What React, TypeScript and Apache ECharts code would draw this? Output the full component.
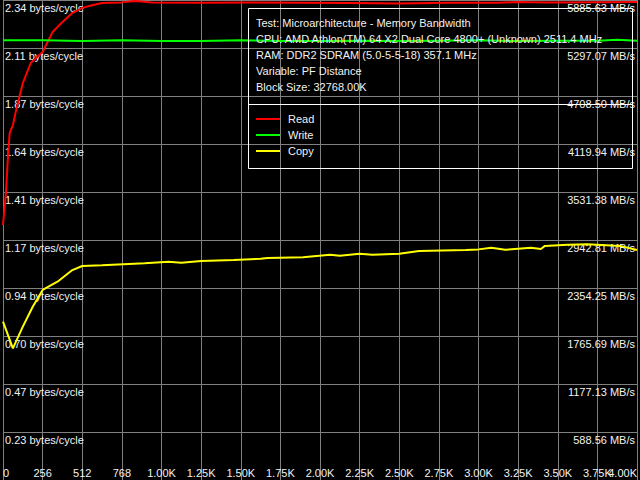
import { useRef, useEffect } from "react"
import * as echarts from "echarts"

// block size (bytes) vs bandwidth (bytes/cycle)
const readSize = [0, 19, 32, 43, 64, 85, 128, 179, 256, 320, 384, 448, 512, 576, 640, 768, 851, 896, 960, 1280, 1600, 1920, 2240, 2560, 2880, 3200, 3328, 3520, 3840, 4096]
const readBw = [1.245, 1.401, 1.577, 1.694, 1.733, 1.807, 1.938, 2.036, 2.09, 2.187, 2.236, 2.28, 2.305, 2.318, 2.329, 2.332, 2.339, 2.336, 2.331, 2.33, 2.331, 2.33, 2.329, 2.327, 2.33, 2.33, 2.334, 2.332, 2.333, 2.334]

const writeSize = [0, 256, 512, 768, 1024, 1280, 1536, 1792, 2048, 2304, 2560, 2816, 3072, 3328, 3584, 3840, 3968, 4096]
const writeBw = [2.147, 2.147, 2.143, 2.147, 2.143, 2.143, 2.147, 2.143, 2.143, 2.145, 2.143, 2.145, 2.147, 2.143, 2.145, 2.145, 2.15, 2.145]

const copySize = [0, 64, 128, 192, 256, 352, 448, 512, 640, 915, 1069, 1152, 1280, 1491, 1664, 1709, 1939, 2112, 2176, 2304, 2387, 2560, 2688, 2989, 3072, 3155, 3245, 3328, 3411, 3475, 3501, 3648, 3776, 3987, 4096]
const copyBw = [0.773, 0.643, 0.749, 0.846, 0.928, 0.968, 1.025, 1.045, 1.048, 1.058, 1.066, 1.061, 1.069, 1.074, 1.08, 1.084, 1.087, 1.1, 1.095, 1.105, 1.1, 1.105, 1.118, 1.123, 1.126, 1.134, 1.124, 1.129, 1.134, 1.128, 1.143, 1.149, 1.151, 1.143, 1.123]

const xLabels = ["0", "256", "512", "768", "1.00K", "1.25K", "1.50K", "1.75K", "2.00K", "2.25K", "2.50K", "2.75K", "3.00K", "3.25K", "3.50K", "3.75K", "4.00K"]
const leftLabels = ["0.23", "0.47", "0.70", "0.94", "1.17", "1.41", "1.64", "1.87", "2.11", "2.34"]
const rightLabels = ["588.56", "1177.13", "1765.69", "2354.25", "2942.81", "3531.38", "4119.94", "4708.50", "5297.07", "5885.63"]

const infoLines = [
  "Test: Microarchitecture - Memory Bandwidth",
  "CPU: AMD Athlon(TM) 64 X2 Dual Core 4800+ (Unknown) 2511.4 MHz",
  "RAM: DDR2 SDRAM (5.0-5-5-18) 357.1 MHz",
  "Variable: PF Distance",
  "Block Size: 32768.00K",
]

const FONT = "'Liberation Sans', Arial, sans-serif"
const TEXT = "#f2f2f2"
const GRID = "#808080"
const X_STEP = 256
const X_MAX = 4096
const Y_MAX = 2.3436
const MB_MAX = 5885.63

export default function App() {
  const chartRef = useRef<HTMLDivElement>(null)

  useEffect(() => {
    if (!chartRef.current) return
    document.body.style.margin = "0"
    const instance = echarts.init(chartRef.current, null, { renderer: "svg" })

    const zip = (xs: number[], ys: number[]) => xs.map((x, i) => [x, ys[i]])
    const labelBase = { inside: true, margin: 2, color: TEXT, fontFamily: FONT, fontSize: 11 }

    instance.setOption({
      animation: false,
      backgroundColor: "#000",
      grid: { left: 0, right: 0, top: 0, bottom: 0, containLabel: false },
      legend: {
        orient: "vertical",
        left: 256,
        top: 111,
        padding: 0,
        icon: "rect",
        itemWidth: 24,
        itemHeight: 2,
        itemGap: 0,
        textStyle: { color: TEXT, fontFamily: FONT, fontSize: 11, lineHeight: 16, padding: [0, 0, 0, 3] },
        data: ["Read", "Write", "Copy"],
      },
      xAxis: [
        {
          type: "value",
          min: 0,
          max: X_MAX,
          interval: X_STEP,
          axisLine: { show: false },
          axisTick: { show: false },
          splitLine: { show: true, lineStyle: { color: GRID, width: 1 } },
          axisLabel: {
            ...labelBase,
            showMinLabel: true,
            showMaxLabel: false,
            alignMinLabel: "left",
            formatter: (v: number) => xLabels[Math.round(v / X_STEP)] ?? "",
          },
        },
        {
          // only carries the last label, which overlaps its neighbour
          type: "value",
          position: "bottom",
          min: 0,
          max: X_MAX,
          interval: X_MAX,
          axisLine: { show: false },
          axisTick: { show: false },
          splitLine: { show: false },
          axisLabel: {
            ...labelBase,
            showMinLabel: false,
            showMaxLabel: true,
            alignMaxLabel: "right",
            formatter: (v: number) => (v >= X_MAX ? xLabels[xLabels.length - 1] : ""),
          },
        },
      ],
      yAxis: [
        {
          type: "value",
          min: 0,
          max: Y_MAX,
          interval: Y_MAX / 10,
          axisLine: { show: false },
          axisTick: { show: false },
          splitLine: { show: true, lineStyle: { color: GRID, width: 1 } },
          axisLabel: {
            ...labelBase,
            verticalAlign: "top",
            padding: [2, 0, 0, 0],
            formatter: (v: number) => {
              const i = Math.round(v / (Y_MAX / 10))
              return i === 0 ? "" : leftLabels[i - 1] + " bytes/cycle"
            },
          },
        },
        {
          type: "value",
          position: "right",
          min: 0,
          max: MB_MAX,
          interval: MB_MAX / 10,
          axisLine: { show: false },
          axisTick: { show: false },
          splitLine: { show: false },
          axisLabel: {
            ...labelBase,
            verticalAlign: "top",
            padding: [2, 0, 0, 0],
            formatter: (v: number) => {
              const i = Math.round(v / (MB_MAX / 10))
              return i === 0 ? "" : rightLabels[i - 1] + " MB/s"
            },
          },
        },
      ],
      series: [
        { name: "Read", type: "line", data: zip(readSize, readBw), symbol: "none", color: "#ff0000", lineStyle: { width: 2 } },
        { name: "Write", type: "line", data: zip(writeSize, writeBw), symbol: "none", color: "#00ff00", lineStyle: { width: 2 } },
        { name: "Copy", type: "line", data: zip(copySize, copyBw), symbol: "none", color: "#ffff00", lineStyle: { width: 2 } },
      ],
      graphic: [
        {
          type: "rect",
          z: 10,
          silent: true,
          shape: { x: 248.5, y: 8.5, width: 384, height: 160 },
          style: { fill: "none", stroke: "#fff", lineWidth: 1 },
        },
        {
          type: "line",
          z: 10,
          silent: true,
          shape: { x1: 248.5, y1: 104.5, x2: 632.5, y2: 104.5 },
          style: { stroke: "#fff", lineWidth: 1 },
        },
        ...infoLines.map((t, i) => ({
          type: "text",
          z: 11,
          silent: true,
          x: 256,
          y: 23 + i * 16,
          style: { text: t, fill: TEXT, font: `11px ${FONT}`, align: "left", verticalAlign: "middle" },
        })),
      ],
    })

    return () => instance.dispose()
  }, [])

  return <div ref={chartRef} style={{ position: "absolute", left: 0, top: 0, width: 640, height: 480 }} />
}
